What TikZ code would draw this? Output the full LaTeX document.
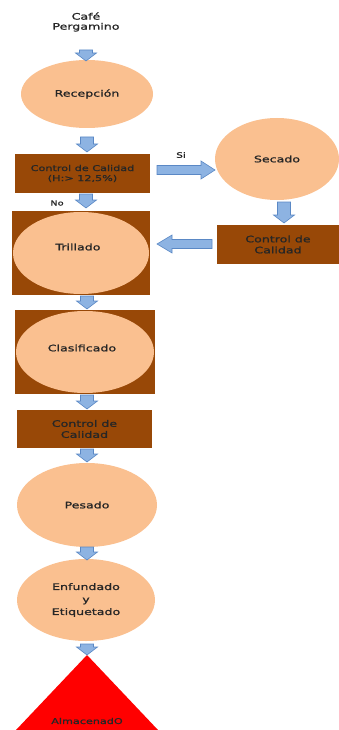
\documentclass[tikz,border=0pt]{standalone}
\usepackage{fontspec}
\setmainfont{DejaVu Sans}[FakeStretch=1.4,FakeBold=1.2]
\usetikzlibrary{shapes.geometric}
\definecolor{peach}{HTML}{FAC090}
\definecolor{brownbox}{HTML}{984807}
\definecolor{arrfill}{HTML}{8DB3E2}
\definecolor{arrline}{HTML}{5A88C5}
\definecolor{txt}{HTML}{262626}
\tikzset{
  oval/.style={ellipse, fill=peach, inner sep=0pt, text=txt, font=\fontsize{9}{12}\selectfont, align=center},
  brownrect/.style={rectangle, fill=brownbox, inner sep=0pt, text=txt, align=center},
  lbl/.style={text=txt, font=\fontsize{9}{11}\selectfont, align=center},
  blockarrow/.style={fill=arrfill, draw=arrline, line width=0.6pt, line join=miter},
  pics/dnarrow/.style args={#1}{code={
    \draw[blockarrow] (-6.5,0) -- (6.5,0) -- (6.5,#1-8) -- (10.5,#1-8) -- (0,#1) -- (-10.5,#1-8) -- (-6.5,#1-8) -- cycle;
  }},
  pics/rtarrow/.style args={#1}{code={
    \draw[blockarrow] (0,-4.5) -- (#1-14,-4.5) -- (#1-14,-9) -- (#1,0) -- (#1-14,9) -- (#1-14,4.5) -- (0,4.5) -- cycle;
  }},
  pics/lfarrow/.style args={#1}{code={
    \draw[blockarrow] (0,-4.5) -- (-#1+15,-4.5) -- (-#1+15,-9) -- (-#1,0) -- (-#1+15,9) -- (-#1+15,4.5) -- (0,4.5) -- cycle;
  }}
}
\begin{document}
\begin{tikzpicture}[x=1pt,y=-1pt]
\useasboundingbox (0,0) rectangle (339,730);
% title
\node[lbl] (cafe) at (86,22) {Café\\[-1pt]Pergamino};
% shapes
\node[oval, minimum width=132pt, minimum height=68pt] (rec) at (87,94) {Recepción};
\node[brownrect, minimum width=135pt, minimum height=39pt, font=\fontsize{8}{10}\selectfont] (cc1) at (82.5,173.5) {Control de Calidad\\(H:> 12,5\%)};
\node[oval, minimum width=124pt, minimum height=82pt] (sec) at (277,159) {Secado};
\node[brownrect, minimum width=122pt, minimum height=39pt, font=\fontsize{9}{11}\selectfont] (cc2) at (278,244.5) {Control de\\Calidad};
\node[brownrect, minimum width=138pt, minimum height=84pt] (trib) at (81,253) {};
\node[oval, minimum width=136pt, minimum height=82pt] (tri) at (81,253) {};
\node[lbl] (tril) at (78,247) {Trillado};
\node[brownrect, minimum width=140pt, minimum height=84pt] (clab) at (85,352) {};
\node[oval, minimum width=138pt, minimum height=82pt] (cla) at (85,352) {};
\node[lbl] (clal) at (82,348) {Clasificado};
\node[brownrect, minimum width=135pt, minimum height=38pt, font=\fontsize{9}{11}\selectfont] (cc3) at (84.5,429) {Control de\\Calidad};
\node[oval, minimum width=140pt, minimum height=84pt] (pes) at (87,505) {Pesado};
\node[oval, minimum width=138pt, minimum height=82pt, font=\fontsize{9}{12.5}\selectfont] (enf) at (86,600) {Enfundado\\y\\Etiquetado};
\coordinate (tA) at (87,655);
\coordinate (tL) at (16,730);
\coordinate (tR) at (158,730);
\fill[red] (tA) -- (tR) -- (tL) -- cycle;
\node[lbl, font=\fontsize{8}{10}\selectfont] (alm) at (87,721) {AlmacenadO};
% labels
\node[lbl, font=\fontsize{7.5}{9}\selectfont] (si) at (181,155) {Si};
\node[lbl, font=\fontsize{7}{9}\selectfont] (no) at (57,203) {No};
% block arrows
\pic (a1) at (86,50) {dnarrow=11};
\pic (a2) at (87,137) {dnarrow=15};
\pic (a3) at (86,194) {dnarrow=14};
\pic (a4) at (87,296) {dnarrow=13};
\pic (a5) at (87,395) {dnarrow=14};
\pic (a6) at (87,449) {dnarrow=13};
\pic (a7) at (87,547) {dnarrow=13};
\pic (a8) at (87,644) {dnarrow=11};
\pic (a9) at (284,202) {dnarrow=21};
\pic (ar) at (157,170) {rtarrow=58};
\pic (al) at (212,244) {lfarrow=55};
\end{tikzpicture}
\end{document}
